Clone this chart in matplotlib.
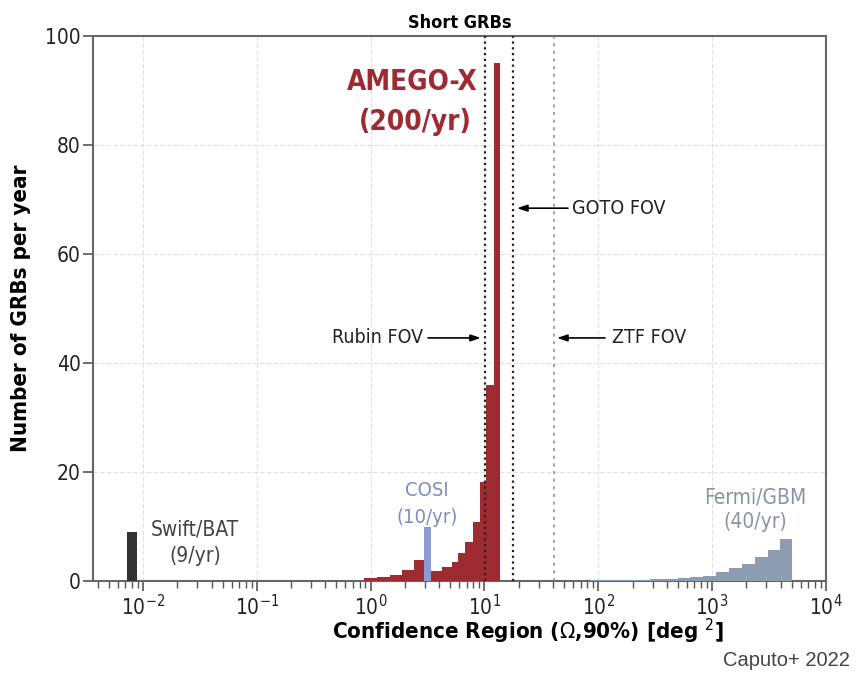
import numpy as np
import matplotlib
matplotlib.use('Agg')
import matplotlib.pyplot as plt

# narrow look like the original
plt.rcParams['font.family'] = ['DejaVu Sans']
plt.rcParams['font.stretch'] = 'condensed'
plt.rcParams['mathtext.fontset'] = 'custom'
plt.rcParams['mathtext.rm'] = 'DejaVu Sans:stretch=condensed'
plt.rcParams['mathtext.it'] = 'DejaVu Sans:italic:stretch=condensed'
plt.rcParams['mathtext.bf'] = 'DejaVu Sans:bold:stretch=condensed'

# Confidence region bin edges [deg^2] and GRBs per year
amego_edges = [0.873, 1.136, 1.478, 1.884, 2.40, 3.124, 4.23, 5.18, 5.85,
               6.74, 7.88, 9.13, 10.3, 12.1, 13.7]
amego_counts = [0.6, 0.8, 1.2, 2.0, 3.9, 1.9, 2.6, 3.5, 5.1, 7.2, 10.9,
                18.2, 36, 95]

cosi_edges = [2.94, 3.39]
cosi_counts = [10]

swift_edges = [0.00716, 0.00877]
swift_counts = [9]

fermi_edges = [46.1, 62.4, 84.5, 114.6, 155, 210, 285, 386, 501, 639, 831,
               1082, 1407, 1830, 2380, 3097, 3951, 5036]
fermi_counts = [0.1, 0.1, 0.12, 0.15, 0.2, 0.25, 0.3, 0.4, 0.5, 0.7, 1.0,
                1.6, 2.4, 3.2, 4.5, 5.7, 7.8]

# Telescope fields of view [deg^2]
rubin_fov = 10.1
goto_fov = 17.9
ztf_fov = 41

amego_color = '#9e2a32'
cosi_color = '#8c9bd2'
fermi_color = '#8e9cb1'
swift_color = '#333333'

fig = plt.figure(figsize=(8.63, 6.78), dpi=100)
ax = fig.add_axes([0.1078, 0.143, 0.957 - 0.1078, 0.947 - 0.143])

ax.set_xscale('log')
ax.set_xlim(10**-2.44, 1e4)
ax.set_ylim(0, 100)

# grid first so bars sit on top
ax.grid(True, which='major', axis='both', color='#e0e0e0', linestyle=(0, (4, 2)), linewidth=0.8)
ax.set_axisbelow(True)

# the histograms
ax.stairs(amego_counts, amego_edges, fill=True, color=amego_color, zorder=3)
ax.stairs(fermi_counts, fermi_edges, fill=True, color=fermi_color, zorder=3)
ax.stairs(swift_counts, swift_edges, fill=True, color=swift_color, zorder=3)
ax.stairs(cosi_counts, cosi_edges, fill=True, color=cosi_color, zorder=4)

# FOV lines
ax.axvline(rubin_fov, color='#222222', linestyle=(0, (1, 1.6)), linewidth=1.6, zorder=5)
ax.axvline(goto_fov, color='#222222', linestyle=(0, (1, 1.6)), linewidth=1.6, zorder=5)
ax.axvline(ztf_fov, color='#888888', linestyle=(0, (2, 3)), linewidth=1.1, zorder=5)

arrow = dict(arrowstyle='-|>,head_length=0.6,head_width=0.2', color='black', lw=1.2,
             shrinkA=0, shrinkB=0)
ax.annotate('', xy=(9.3, 44.6), xytext=(3.19, 44.6), arrowprops=arrow)
ax.text(2.88, 44.6, 'Rubin FOV', ha='right', va='center', fontsize=14, color='#222222')
ax.annotate('', xy=(19.3, 68.4), xytext=(54.2, 68.4), arrowprops=arrow)
ax.text(58.8, 68.4, 'GOTO FOV', ha='left', va='center', fontsize=14, color='#222222')
ax.annotate('', xy=(43.4, 44.6), xytext=(114.5, 44.6), arrowprops=arrow)
ax.text(132, 44.6, 'ZTF FOV', ha='left', va='center', fontsize=14, color='#222222')

# instrument labels
ax.text(8.77, 91.6, 'AMEGO-X', ha='right', va='center', fontsize=20,
        fontweight='bold', color=amego_color)
ax.text(7.77, 84.2, '(200/yr)', ha='right', va='center', fontsize=20,
        fontweight='bold', color=amego_color)
ax.text(3.12, 16.7, 'COSI', ha='center', va='center', fontsize=14.5, color='#7d8cc4')
ax.text(3.12, 11.6, '(10/yr)', ha='center', va='center', fontsize=14.5, color='#7d8cc4')
ax.text(0.0286, 9.4, 'Swift/BAT', ha='center', va='center', fontsize=15, color='#444444')
ax.text(0.0286, 4.6, '(9/yr)', ha='center', va='center', fontsize=15, color='#444444')
ax.text(2382, 15.4, 'Fermi/GBM', ha='center', va='center', fontsize=15, color='#8893a5')
ax.text(2382, 10.8, '(40/yr)', ha='center', va='center', fontsize=15, color='#8893a5')

ax.set_yticks([0, 20, 40, 60, 80, 100])
ax.tick_params(axis='both', which='major', labelsize=15, length=7, width=1.2,
               color='#555555', labelcolor='#222222', direction='out', pad=2)
ax.tick_params(axis='x', which='minor', length=5, width=1.0, color='#555555', direction='out')
for side in ['left', 'right', 'top', 'bottom']:
    ax.spines[side].set_color('#666666')
    ax.spines[side].set_linewidth(1.5)

ax.set_title('Short GRBs', fontsize=13, fontweight='bold', pad=6)
ax.set_xlabel(r'Confidence Region ($\Omega$,90%) [deg $^2$]', fontsize=16,
              fontweight='bold')
ax.xaxis.set_label_coords(0.593, -0.066)
ax.set_ylabel('Number of GRBs per year', fontsize=16, fontweight='bold')
ax.yaxis.set_label_coords(-0.084, 0.5)

fig.text(0.985, 0.026, 'Caputo+ 2022', ha='right', va='center', fontsize=14.5,
         color='#444444', family='Liberation Sans', stretch='normal')

fig.savefig('out.png', dpi=100)
